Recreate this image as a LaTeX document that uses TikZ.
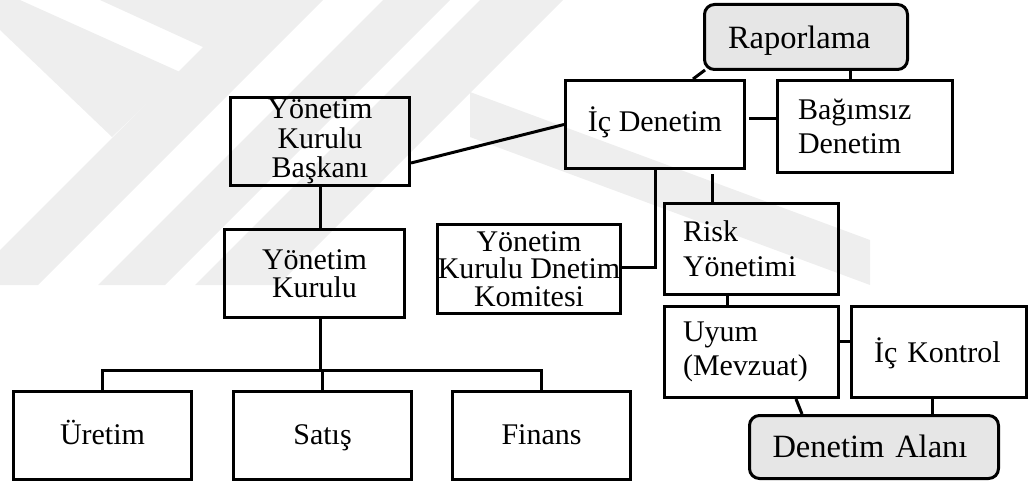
\documentclass[tikz,border=0pt]{standalone}
\usepackage{fontspec}
\setmainfont{Liberation Serif}
\usetikzlibrary{calc}
\definecolor{wmark}{RGB}{238,238,238}
\definecolor{softfill}{RGB}{230,230,230}
\begin{document}
\begin{tikzpicture}[x=1pt,y=-1pt,
  every node/.style={inner sep=0pt},
  box/.style={draw, line width=3pt, align=center,
    font=\fontsize{30}{29.5}\selectfont},
  leftbox/.style={box, align=left, inner xsep=#1},
  leftbox/.default=20pt,
  oneline/.style={text height=#1, text depth=6pt},
  softbox/.style={box, align=left, fill=softfill, rounded corners=10pt,
    inner xsep=23pt, font=\fontsize{32.5}{34}\selectfont},
  link/.style={line width=3pt}]
\useasboundingbox (0,0) rectangle (1032,484);

% faint background bands
\begin{scope}
\clip (0,0) rectangle (1032,285);
\fill[wmark] (0,0) -- (20,0) -- (180,72) -- (112,137) -- (0,30) -- cycle;
\fill[wmark] (100,0) -- (205,48) -- (307,0) -- cycle;
\fill[wmark] (250,0) -- (323,0) -- (38,285) -- (0,285) -- (0,250) -- cycle;
\fill[wmark] (383,0) -- (450,0) -- (165,285) -- (98,285) -- cycle;
\fill[wmark] (480,0) -- (563,0) -- (278,285) -- (195,285) -- cycle;
\fill[wmark] (470,92) -- (870,240) -- (870,285) -- (470,137) -- cycle;
\end{scope}

% boxes
\node[box, minimum width=179, minimum height=88] (bask) at (320,141.5)
  {Yönetim\\Kurulu\\Başkanı};
\node[softbox, oneline=28.6pt, minimum width=203, minimum height=65, text width=156] (rap) at (806,37)
  {Raporlama};
\node[box, oneline=20.4pt, minimum width=179, minimum height=88] (icd) at (655,124.5)
  {İç Denetim};
\node[leftbox=20.5pt, minimum width=175, minimum height=92, text width=134] (bag) at (865,126.5)
  {Bağımsız\\[4.5pt]Denetim};
\node[leftbox=18.5pt, minimum width=174, minimum height=91, text width=137] (risk) at (751.5,249)
  {Risk\\[5.5pt]Yönetimi};
\node[box, minimum width=181, minimum height=89,
  font=\fontsize{30}{27.5}\selectfont] (kom) at (529,269)
  {Yönetim\\Kurulu Dnetim\\Komitesi};
\node[box, minimum width=180, minimum height=88,
  font=\fontsize{30}{28}\selectfont] (yk) at (314.5,273.5)
  {Yönetim\\Kurulu};
\node[box, oneline=24pt, minimum width=178, minimum height=88] (uret) at (102.5,435.5) {Üretim};
\node[box, oneline=24pt, minimum width=178, minimum height=88] (satis) at (322.5,435.5) {Satış};
\node[box, oneline=24pt, minimum width=178, minimum height=88] (finans) at (541.5,435.5) {Finans};
\node[leftbox=18.5pt, minimum width=174, minimum height=91, text width=137] (uyum) at (751.5,352)
  {Uyum\\[4.5pt](Mevzuat)};
\node[leftbox=22.5pt, oneline=26pt, minimum width=175, minimum height=91, text width=130] (ick) at (939,352)
  {İç Kontrol};
\node[softbox, oneline=26pt, minimum width=247, minimum height=63, text width=203] (da) at (874,447)
  {Denetim Alanı};

% connectors
\draw[link] ($(bask.east)+(0,21.5)$) -- (icd.west);
\draw[link] (bask.south) -- (bask.south |- yk.north);
\draw[link] ($(rap.south west)+(2,-1)$) -- ($(icd.north)+(38,0)$);
\draw[link] ($(bag.north)+(-15,0)$) coordinate (rb) -- (rb |- rap.south);
\draw[link] ($(icd.east)+(3,-6.5)$) coordinate (ib) -- (ib -| bag.west);
\draw[link] (icd.south) |- ($(kom.east)+(0,-2)$);
\draw[link] ($(icd.south)+(57,4)$) coordinate (ir) -- (ir |- risk.north);
\draw[link] ($(risk.south)+(-24.5,0)$) coordinate (ru) -- (ru |- uyum.north);
\draw[link] ($(uyum.east)+(0,-11)$) coordinate (uk) -- (uk -| ick.west);
\draw[link] ($(uyum.south)+(44.5,0)$) -- ($(da.north)+(-72,0)$);
\draw[link] ($(ick.south)+(-7,0)$) coordinate (kd) -- (kd |- da.north);
\coordinate (bus) at (320,370);
\draw[link] ($(yk.south)+(5.5,0)$) -- (bus);
\draw[link] (uret.north) |- (bus) -| (finans.north);
\draw[link] (satis.north) -- (satis.north |- bus);
\end{tikzpicture}
\end{document}
